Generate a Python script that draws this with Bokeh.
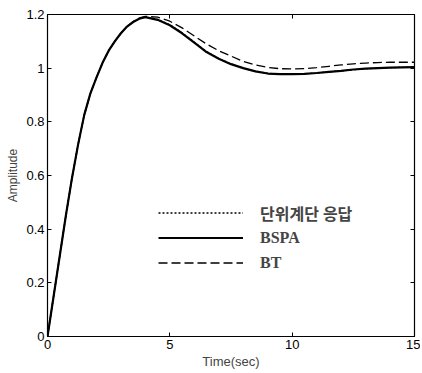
from bokeh.plotting import figure
from bokeh.models import LinearAxis, FixedTicker, Legend, LegendItem, Range1d
from bokeh.embed import file_html
from bokeh.resources import INLINE

# Time samples (sec)
t = [0, 0.25, 0.5, 0.75, 1.0, 1.25, 1.5, 1.75, 2.0, 2.25, 2.5, 2.75, 3.0, 3.25, 3.5, 3.75,
     4.0, 4.5, 5.0, 5.5, 6.0, 6.5, 7.0, 7.5,
     8.0, 8.5, 9.0, 9.5, 10.0, 10.5, 11.0, 11.5, 12.0, 12.5, 13.0, 13.5, 14.0, 14.5, 15.0]
# Unit step response (nearly identical to BSPA)
step = [0, 0.15, 0.30, 0.45, 0.59, 0.715, 0.825, 0.905, 0.965, 1.02, 1.065, 1.10, 1.13,
        1.155, 1.172, 1.184, 1.19, 1.182, 1.162, 1.132, 1.097,
        1.062, 1.036, 1.016, 1.0, 0.988, 0.981, 0.978, 0.978, 0.979, 0.982, 0.986, 0.99,
        0.994, 0.998, 1.0, 1.002, 1.003, 1.004]
bspa = [0, 0.15, 0.30, 0.45, 0.59, 0.715, 0.825, 0.905, 0.965, 1.02, 1.065, 1.10, 1.13,
        1.155, 1.172, 1.184, 1.19, 1.18, 1.16, 1.13, 1.095,
        1.06, 1.035, 1.015, 1.0, 0.988, 0.98, 0.978, 0.978, 0.979, 0.982, 0.986, 0.99,
        0.995, 0.998, 1.0, 1.002, 1.003, 1.004]
bt = [0, 0.15, 0.30, 0.45, 0.59, 0.715, 0.825, 0.905, 0.965, 1.02, 1.065, 1.10, 1.13,
      1.156, 1.174, 1.187, 1.193, 1.19, 1.175, 1.15, 1.12,
      1.09, 1.065, 1.045, 1.025, 1.012, 1.003, 0.998, 0.997, 0.998, 1.002, 1.007, 1.012,
      1.016, 1.019, 1.021, 1.022, 1.022, 1.022]

x_ticks = [0, 5, 10, 15]
x_tick_labels = ["0", "5", "10", "15"]
y_ticks = [0, 0.2, 0.4, 0.6, 0.8, 1.0, 1.2]
y_tick_labels = ["0", "0.2", "0.4", "0.6", "0.8", "1", "1.2"]
series_names = ["단위계단 응답", "BSPA", "BT"]

p = figure(width=420, height=371, output_backend="svg", toolbar_location=None,
           x_range=Range1d(0, 15), y_range=Range1d(0, 1.2),
           min_border_left=47, min_border_right=6, min_border_top=14, min_border_bottom=35)
p.background_fill_color = "white"
p.border_fill_color = "white"
p.outline_line_color = "black"
p.outline_line_width = 1.2
p.xgrid.visible = False
p.ygrid.visible = False

r1 = p.line(t, step, line_color="black", line_width=1.3, line_dash="2 2")
r2 = p.line(t, bspa, line_color="black", line_width=2.2)
r3 = p.line(t, bt, line_color="black", line_width=1.3, line_dash="9 4")

def style_axis(ax, ticks, labels, show_labels=True):
    ax.ticker = FixedTicker(ticks=ticks)
    ax.major_label_overrides = {tk: lb for tk, lb in zip(ticks, labels)}
    ax.minor_tick_line_color = None
    ax.major_tick_in = 4
    ax.major_tick_out = 0
    ax.major_tick_line_color = "black"
    ax.axis_line_color = "black"
    ax.major_label_text_font = "Liberation Sans"
    ax.major_label_text_font_size = "13px"
    ax.major_label_text_color = "black" if show_labels else None
    ax.axis_label_text_font = "Liberation Sans"
    ax.axis_label_text_font_size = "12px"
    ax.axis_label_text_font_style = "normal"

xa = p.xaxis[0]
style_axis(xa, x_ticks, x_tick_labels)
xa.axis_label = "Time(sec)"
xa.axis_label_text_font_size = "13px"
xa.major_label_standoff = 3
xa.axis_label_standoff = 2

ya = p.yaxis[0]
style_axis(ya, y_ticks, y_tick_labels)
ya.axis_label = "Amplitude"
ya.major_label_standoff = 3
ya.axis_label_standoff = 3

top = LinearAxis()
style_axis(top, x_ticks, x_tick_labels, show_labels=False)
top.major_label_text_font_size = "0px"
p.add_layout(top, "above")
right = LinearAxis()
style_axis(right, y_ticks, y_tick_labels, show_labels=False)
right.major_label_text_font_size = "0px"
p.add_layout(right, "right")

legend = Legend(items=[LegendItem(label=series_names[0], renderers=[r1]),
                       LegendItem(label=series_names[1], renderers=[r2]),
                       LegendItem(label=series_names[2], renderers=[r3])],
                location=(111, 61))
legend.border_line_color = None
legend.background_fill_alpha = 0
legend.padding = 0
legend.margin = 0
legend.spacing = 0
legend.glyph_width = 85
legend.glyph_height = 25
legend.label_height = 25
legend.label_standoff = 17
legend.label_text_font = "Liberation Serif, Noto Sans CJK KR"
legend.label_text_font_style = "bold"
legend.label_text_font_size = "16px"
p.add_layout(legend)

open("out.html", "w").write(file_html(p, INLINE))
